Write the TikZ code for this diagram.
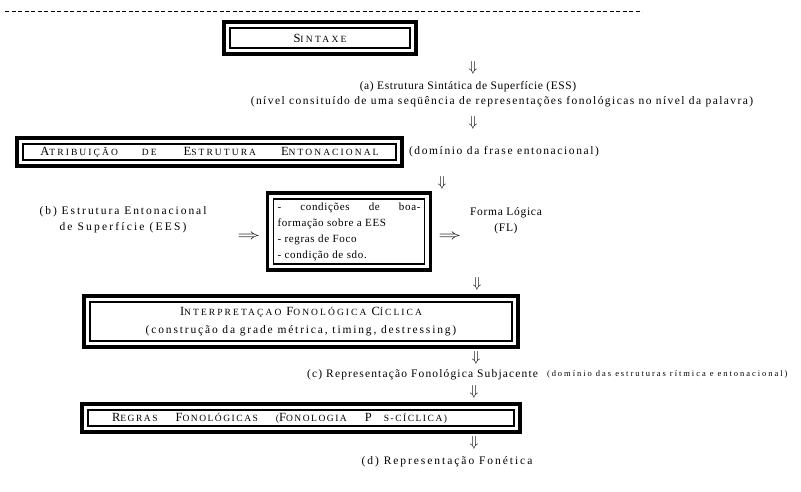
\documentclass[tikz,border=0pt]{standalone}
\usepackage{fontspec}
\setmainfont{Liberation Serif}
\newfontfamily\lsp{Liberation Serif}[LetterSpace=6]
\newfontfamily\lspw{Liberation Serif}[LetterSpace=18]
\usetikzlibrary{fit}
\newcommand\bodyf{\lsp\fontsize{11.5}{15.6}\selectfont}
\newcommand\smallf{\lsp\fontsize{8.5}{10}\selectfont}
\newcommand\scA[1]{{\fontsize{12.5}{14}\selectfont #1}}
\newcommand\scB[1]{{\fontsize{9.5}{14}\selectfont #1}}
\newcommand\lsx[1]{\addfontfeatures{LetterSpace=#1}}
\begin{document}
\begin{tikzpicture}[x=1pt,y=-1pt,
  txt/.style={inner sep=0pt, outer sep=0pt, font=\bodyf},
  ibox/.style={draw, line width=1.8pt, inner sep=0pt, outer sep=0pt, font=\bodyf},
  obox/.style={draw, line width=3.4pt, inner sep=6pt, outer sep=0pt},
  darr/.style={inner sep=0pt, outer sep=0pt, font=\fontsize{14}{14}\selectfont},
  rarr/.style={inner sep=0pt, outer sep=0pt, font=\fontsize{14}{14}\selectfont, xscale=1.6},
]
\useasboundingbox (0,0) rectangle (801,492);
\coordinate (dl) at (5,11);
\coordinate (dr) at (642,11);
\draw[dash pattern=on 4pt off 2.5pt, line width=0.8pt] (dl) -- (dr);

% SINTAXE
\node[ibox, minimum width=180, minimum height=20] (sint) at (320,38)
  {{\lspw\lsx{24}\scA{S}\scB{INTAXE}}};
\node[obox, fit=(sint)] (sinto) {};

\node[darr] (d1) at (473,68) {$\Downarrow$};
\node[txt] (a) at (468,87) {\lsx{5}(a) Estrutura Sintática de Superfície (ESS)};
\node[txt] (niv) at (502,102) {\lsx{12.5}(nível consituído de uma seqüência de representações fonológicas no nível da palavra)};
\node[darr] (d2) at (473,123) {$\Downarrow$};

% ATRIBUICAO
\node[ibox, minimum width=373, minimum height=16] (atr) at (209.5,152)
  {{\lspw\lsx{22}\scA{A}\scB{TRIBUIÇÃO}\hspace{24pt}\scB{DE}\hspace{27pt}\scA{E}\scB{STRUTURA}\hspace{25pt}\scA{E}\scB{NTONACIONAL}}};
\node[obox, fit=(atr)] (atro) {};
\node[txt, anchor=west] (dom1) at (409,152) {\lsx{14}(domínio da frase entonacional)};

\node[darr] (d3) at (442,183) {$\Downarrow$};

% (b)
\node[txt, align=center] (b) at (123,219.5) {\lsx{17}(b) Estrutura Entonacional\\\lsx{19}de Superfície (EES)};
\node[rarr] (r1) at (249,237) {$\Rightarrow$};

% middle box
\node[ibox, minimum width=151, minimum height=65] (mid) at (349,231.5)
  {\parbox{143pt}{\lsp\fontsize{11}{16}\selectfont\raggedright
   \makebox[143pt][s]{-\hfill condições\hfill de\hfill boa-}\\
   formação sobre a EES\\
   - regras de Foco\\
   - condição de sdo.}};
\node[obox, fit=(mid)] (mido) {};

\node[rarr] (r2) at (450,237) {$\Rightarrow$};
\node[txt, align=center] (fl) at (506,221) {\lsx{6}Forma Lógica\\\lsx{6}(FL)};

\node[darr] (d4) at (477,284) {$\Downarrow$};

% INTERPRETACAO
\node[ibox, minimum width=422, minimum height=39, align=center] (int) at (301,321.5)
  {{\lspw\lsx{22}\scA{I}\scB{NTERPRETAÇAO}\hspace{5pt}\scA{F}\scB{ONOLÓGICA}\hspace{5pt}\scA{C}\scB{ÍCLICA}}\\[2.5pt]
   \lsx{16}(construção da grade métrica, timing, destressing)};
\node[obox, fit=(int)] (into) {};

\node[darr] (d5) at (476,358) {$\Downarrow$};
\node[txt, anchor=east] (c) at (538,374.5) {\lsx{10}(c) Representação Fonológica Subjacente};
\node[txt, anchor=west, font=\smallf] (dom2) at (547,374) {\lsx{23}(domínio das estruturas rítmica e entonacional)};
\node[darr] (d6) at (474,392) {$\Downarrow$};

% REGRAS
\node[ibox, minimum width=426, minimum height=16] (reg) at (301,418)
  {\makebox[426pt][l]{\hspace{24pt}\lspw\lsx{16}\scA{R}\scB{EGRAS}\hspace{18pt}\scA{F}\scB{ONOLÓGICAS}\hspace{18pt}\scB{(}\scA{F}\scB{ONOLOGIA}\hspace{18pt}\scA{P}\hspace{12pt}\scB{S-CÍCLICA)}}};
\node[obox, fit=(reg)] (rego) {};

\node[darr] (d7) at (474,443) {$\Downarrow$};
\node[txt] (d) at (447,462) {\lsx{17}(d) Representação Fonética};
\end{tikzpicture}
\end{document}
